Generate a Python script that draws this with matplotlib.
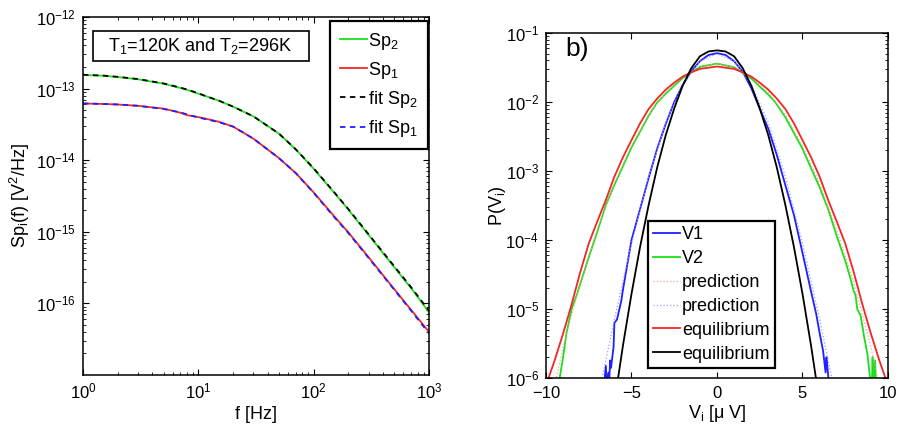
import matplotlib
matplotlib.use("Agg")
import matplotlib.pyplot as plt
import matplotlib as mpl
from matplotlib.patches import Rectangle
from matplotlib.ticker import FixedLocator

mpl.rcParams['font.family'] = ['Liberation Sans', 'DejaVu Sans']
mpl.rcParams['font.size'] = 13
mpl.rcParams['mathtext.fontset'] = 'custom'
mpl.rcParams['mathtext.rm'] = 'Liberation Sans'
mpl.rcParams['mathtext.it'] = 'Liberation Sans:italic'
mpl.rcParams['mathtext.default'] = 'regular'

# ---- panel a: power spectra ----
freq = [1, 1.5, 2, 3, 5, 7, 8, 10, 12, 15, 20, 30, 50, 70, 100, 150, 200, 300, 500, 700, 1000]
sp2 = [1.55e-13, 1.51e-13, 1.45e-13, 1.35e-13, 1.17e-13, 1.02e-13, 9.6e-14, 8.5e-14, 7.7e-14,
       6.8e-14, 5.6e-14, 4.1e-14, 2.35e-14, 1.41e-14, 7.6e-15, 3.55e-15, 2.04e-15, 9.0e-16,
       3.2e-16, 1.63e-16, 7.5e-17]
sp1 = [6.2e-14, 6.1e-14, 6.0e-14, 5.75e-14, 5.25e-14, 4.6e-14, 4.25e-14, 4.0e-14, 3.75e-14,
       3.45e-14, 2.95e-14, 2.0e-14, 1.07e-14, 6.6e-15, 3.55e-15, 1.66e-15, 9.8e-16, 4.4e-16,
       1.58e-16, 8.1e-17, 4.0e-17]
fit_sp2 = [1.56e-13, 1.52e-13, 1.46e-13, 1.36e-13, 1.18e-13, 1.03e-13, 9.7e-14, 8.6e-14, 7.7e-14,
           6.8e-14, 5.6e-14, 4.1e-14, 2.35e-14, 1.42e-14, 7.7e-15, 3.6e-15, 2.07e-15, 9.2e-16,
           3.3e-16, 1.68e-16, 7.9e-17]
fit_sp1 = [6.2e-14, 6.1e-14, 6.0e-14, 5.75e-14, 5.2e-14, 4.65e-14, 4.35e-14, 3.95e-14, 3.7e-14,
           3.4e-14, 2.95e-14, 2.0e-14, 1.07e-14, 6.6e-15, 3.5e-15, 1.62e-15, 9.6e-16, 4.3e-16,
           1.55e-16, 7.9e-17, 3.8e-17]

# ---- panel b: distributions ----
x_eq_red = [-10, -9.85, -9.5, -9, -8.5, -8, -7.5, -7, -6.5, -6, -5.5, -5, -4.5, -4, -3.5, -3, -2.5, -2,
            -1.5, -1, 0, 1, 1.5, 2, 2.5, 3, 3.5, 4, 4.5, 5, 5.5, 6, 6.5, 7, 7.5, 8, 8.5, 9, 9.5, 9.85, 10]
p_eq_red = [7.9e-7, 1.0e-6, 1.78e-6, 4.4e-6, 1.17e-5, 3.4e-5, 8.9e-5, 1.86e-4, 3.8e-4, 8.3e-4, 1.58e-3,
            2.8e-3, 4.9e-3, 7.9e-3, 1.12e-2, 1.51e-2, 1.91e-2, 2.34e-2, 2.69e-2, 3.02e-2, 3.27e-2,
            3.02e-2, 2.69e-2, 2.34e-2, 1.91e-2, 1.51e-2, 1.12e-2, 7.9e-3, 4.9e-3, 2.8e-3, 1.58e-3,
            8.3e-4, 3.8e-4, 1.86e-4, 8.9e-5, 3.4e-5, 1.17e-5, 4.4e-6, 1.78e-6, 1.0e-6, 7.9e-7]
x_eq_black = [-6, -5.5, -5, -4.5, -4, -3.5, -3, -2.5, -2, -1.5, -1, -0.5, 0, 0.5, 1, 1.5, 2, 2.5, 3,
              3.5, 4, 4.5, 5, 5.5, 6]
p_eq_black = [4.4e-7, 2.95e-6, 1.66e-5, 7.9e-5, 3.2e-4, 1.12e-3, 3.3e-3, 8.1e-3, 1.74e-2, 3.1e-2,
              4.6e-2, 5.4e-2, 5.6e-2, 5.4e-2, 4.6e-2, 3.1e-2, 1.74e-2, 8.1e-3, 3.3e-3, 1.12e-3,
              3.2e-4, 7.9e-5, 1.66e-5, 2.95e-6, 4.4e-7]
x_v1 = [-6.6, -6.5, -6.45, -6.35, -6.3, -6.25, -6.2, -6.05, -6.0, -5.85, -5.6, -5.5, -5.0, -4.5,
        -4.0, -3.5, -3.0, -2.5, -2.0, -1.5, -1.0, -0.5, 0, 0.5, 1, 1.5, 2, 2.5, 3, 3.5, 4, 4.5,
        5, 5.5, 5.8, 6.0, 6.2, 6.35, 6.4, 6.45, 6.55]
p_v1 = [8e-7, 1.5e-6, 8e-7, 1.2e-6, 9e-7, 1.8e-6, 1.4e-6, 2.8e-6, 6.3e-6, 7e-6, 1.3e-5, 1.9e-5,
        1.0e-4, 2.8e-4, 7.9e-4, 2.1e-3, 4.8e-3, 1.0e-2, 1.78e-2, 2.8e-2, 3.9e-2, 4.8e-2, 5.1e-2,
        4.8e-2, 3.9e-2, 2.75e-2, 1.6e-2, 8e-3, 4.1e-3, 1.7e-3, 6.2e-4, 2.3e-4, 6.5e-5, 1.8e-5,
        8.5e-6, 4.5e-6, 2.5e-6, 1.2e-6, 2e-6, 1.5e-6, 8e-7]
x_v2 = [-9.3, -9.2, -9.0, -8.8, -8.5, -8.2, -8.0, -7.5, -7.0, -6.5, -6.0, -5.0, -4.0, -3.5, -3.0,
        -2.0, -1.0, 0, 1, 2, 3, 3.4, 4, 5, 6, 6.5, 7, 7.5, 7.8, 8.0, 8.1, 8.2, 8.4, 8.6, 8.8,
        8.95, 9.05, 9.1, 9.15, 9.25, 9.3]
p_v2 = [8e-7, 1.0e-6, 2.0e-6, 4.5e-6, 1.0e-5, 1.6e-5, 2.3e-5, 5.6e-5, 1.32e-4, 3.2e-4, 6.3e-4,
        2.2e-3, 6.3e-3, 9.8e-3, 1.32e-2, 2.24e-2, 3.24e-2, 3.6e-2, 3.2e-2, 2.2e-2, 1.28e-2,
        1.0e-2, 6.0e-3, 2.1e-3, 5.8e-4, 2.8e-4, 1.15e-4, 5e-5, 2.8e-5, 1.8e-5, 1.6e-5, 1.0e-5,
        8e-6, 4e-6, 2.2e-6, 1.0e-6, 7e-7, 2e-6, 7e-7, 1.8e-6, 7e-7]
x_pred2 = [-9.6, -9.4, -9, -8, -7, -6, -5, -4, -3, -2, -1, 0, 1, 2, 3, 4, 5, 6, 7, 8, 9, 9.4, 9.6]
p_pred2 = [6e-7, 1.0e-6, 2.8e-6, 2.4e-5, 1.4e-4, 6.6e-4, 2.3e-3, 6.5e-3, 1.38e-2, 2.3e-2, 3.2e-2,
           3.6e-2, 3.2e-2, 2.3e-2, 1.38e-2, 6.5e-3, 2.3e-3, 6.6e-4, 1.4e-4, 2.4e-5, 2.8e-6,
           1.0e-6, 6e-7]
x_pred1 = [-6.8, -6.5, -6, -5, -4, -3, -2, -1, 0, 1, 2, 3, 4, 5, 6, 6.5, 6.8]
p_pred1 = [8e-7, 1.8e-6, 7.1e-6, 8.9e-5, 8.3e-4, 5.0e-3, 1.8e-2, 3.9e-2, 5.0e-2, 3.9e-2, 1.8e-2,
           5.0e-3, 8.3e-4, 8.9e-5, 7.1e-6, 1.8e-6, 8e-7]

green = '#19e019'
red = '#f52525'
blue = '#1f1fff'
lw = 1.3

fig = plt.figure(figsize=(9.03, 4.29), dpi=100)
ax1 = fig.add_axes([83/903, 54/429, 346/903, 358/429])
ax2 = fig.add_axes([546/903, 51/429, 342/903, 345/429])

# panel a
ax1.loglog(freq, sp2, color=green, lw=lw, label='Sp$_2$')
ax1.loglog(freq, sp1, color=red, lw=lw, label='Sp$_1$')
ax1.loglog(freq, fit_sp2, color='k', lw=lw, linestyle=(0, (3, 2.5)), label='fit Sp$_2$')
ax1.loglog(freq, fit_sp1, color=blue, lw=lw, linestyle=(0, (3, 2.5)), label='fit Sp$_1$')
ax1.set_xlim(1, 1000)
ax1.set_ylim(1e-17, 1e-12)
ax1.yaxis.set_major_locator(FixedLocator([1e-16, 1e-15, 1e-14, 1e-13, 1e-12]))
ax1.set_xlabel('f [Hz]', labelpad=3)
ax1.set_ylabel('Sp$_{\\mathrm{i}}$(f) [V$^2$/Hz]', labelpad=3)
ax1.add_patch(Rectangle((0.028, 0.878), 0.625, 0.083, transform=ax1.transAxes,
                        fc='white', ec='k', lw=1.2, zorder=4))
ax1.text(0.34, 0.918, 'T$_1$=120K and T$_2$=296K', transform=ax1.transAxes, ha='center',
         va='center', fontsize=13, zorder=5)
leg1 = ax1.legend(loc='upper right', bbox_to_anchor=(0.997, 0.99), fontsize=13, handlelength=1.5,
                  handletextpad=0.1, labelspacing=0.45, borderpad=0.55, fancybox=False,
                  framealpha=1, borderaxespad=0)
leg1.get_frame().set_edgecolor('k')
leg1.get_frame().set_linewidth(1.6)

# panel b
ax2.semilogy(x_v1, p_v1, color=blue, lw=lw, label='V1')
ax2.semilogy(x_v2, p_v2, color=green, lw=lw, label='V2')
ax2.semilogy(x_pred2, p_pred2, color='#ff9a9a', lw=0.9, linestyle=':', label='prediction')
ax2.semilogy(x_pred1, p_pred1, color='#9a9aff', lw=0.9, linestyle=':', label='prediction')
ax2.semilogy(x_eq_red, p_eq_red, color=red, lw=lw, label='equilibrium')
ax2.semilogy(x_eq_black, p_eq_black, color='k', lw=lw, label='equilibrium')
ax2.set_xlim(-10, 10)
ax2.set_ylim(1e-6, 1e-1)
ax2.set_xticks([-10, -5, 0, 5, 10])
ax2.set_xlabel('V$_{\\mathrm{i}}$ [μ V]', labelpad=1)
ax2.set_ylabel('P(V$_{\\mathrm{i}}$)', labelpad=-2)
ax2.text(0.056, 0.955, 'b)', transform=ax2.transAxes, fontsize=19, ha='left', va='center')
leg2 = ax2.legend(loc='lower left', bbox_to_anchor=(0.298, 0.029), fontsize=13, handlelength=1.5,
                  handletextpad=0.1, labelspacing=0.38, borderpad=0.3, fancybox=False,
                  framealpha=1, borderaxespad=0)
leg2.get_frame().set_edgecolor('k')
leg2.get_frame().set_linewidth(1.6)

for ax in (ax1, ax2):
    ax.tick_params(which='both', direction='in', top=True, right=True, labelsize=12, pad=5)
    ax.tick_params(which='major', length=4, width=0.8)
    ax.tick_params(which='minor', length=2, width=0.6)
    for s in ax.spines.values():
        s.set_linewidth(1.1)
ax2.tick_params(axis='x', pad=6)

plt.savefig('out.png', dpi=100)
